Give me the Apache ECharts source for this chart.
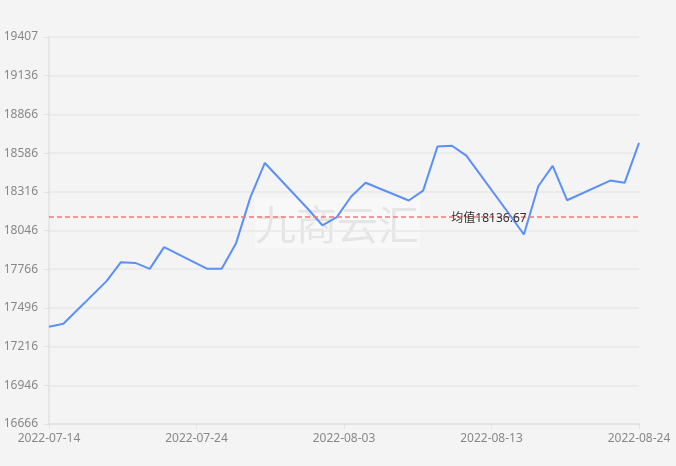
<!DOCTYPE html>
<html>
<head>
<meta charset="utf-8">
<script src="https://cdn.jsdelivr.net/npm/echarts@6/dist/echarts.min.js"></script>
<style>
html,body{margin:0;padding:0;background:#f4f4f4;}
#chart{width:676px;height:466px;}
</style>
</head>
<body>
<div id="chart"></div>
<script>
var dates = ['2022-07-14','2022-07-15','2022-07-18','2022-07-19','2022-07-20','2022-07-21','2022-07-22',
  '2022-07-25','2022-07-26','2022-07-27','2022-07-28','2022-07-29',
  '2022-08-01','2022-08-02','2022-08-03','2022-08-04','2022-08-05',
  '2022-08-08','2022-08-09','2022-08-10','2022-08-11','2022-08-12',
  '2022-08-15','2022-08-16','2022-08-17','2022-08-18','2022-08-19',
  '2022-08-22','2022-08-23','2022-08-24'];
var prices = [17355,17376,17678,17812,17807,17765,17919,
  17765,17765,17947,18273,18515,
  18189,18073,18131,18277,18375,
  18249,18319,18632,18637,18567,
  18150,18008,18350,18494,18251,
  18390,18374,18657];
var yTickLabels = ['16666','16946','17216','17496','17766','18046','18316','18586','18866','19136','19407'];
var xStart = '2022-07-14';
var xEnd = '2022-08-24';
var yMin = 16666, yMax = 19407;

var DAY = 86400000;
var base = Date.parse(xStart);
var span = (Date.parse(xEnd) - base) / DAY;
function pad(n){return n<10?'0'+n:''+n;}
function fmtDay(v){
  var d = new Date(base + Math.floor(v + 1e-6) * DAY);
  return d.getUTCFullYear() + '-' + pad(d.getUTCMonth()+1) + '-' + pad(d.getUTCDate());
}
var seriesData = dates.map(function(d, i){ return [(Date.parse(d) - base) / DAY, prices[i]]; });
var yInterval = (yMax - yMin) / 10;

var chart = echarts.init(document.getElementById('chart'));
chart.setOption({
  backgroundColor: '#f4f4f4',
  animation: false,
  textStyle: {fontFamily: 'Noto Sans, Noto Sans CJK SC, sans-serif'},
  grid: {left: 49, right: 37, top: 37, bottom: 42, containLabel: false},
  xAxis: {
    type: 'value',
    min: 0, max: span, interval: span / 4,
    axisLine: {show: true, lineStyle: {color: '#e2e2e2', width: 1.5}},
    axisTick: {show: true, length: 5, lineStyle: {color: '#e2e2e2'}},
    splitLine: {show: false},
    axisLabel: {color: '#888', fontSize: 12, margin: 9, formatter: function(v){ return fmtDay(v); }}
  },
  yAxis: {
    type: 'value',
    min: yMin, max: yMax, interval: yInterval,
    axisLine: {show: true, lineStyle: {color: '#e2e2e2', width: 1.5}},
    axisTick: {show: true, length: 5, lineStyle: {color: '#e2e2e2'}},
    splitLine: {show: true, lineStyle: {color: '#e9e9e9', width: 1.5}},
    axisLabel: {color: '#888', fontSize: 12, margin: 11, formatter: function(v){
      var i = Math.round((v - yMin) / yInterval);
      return yTickLabels[i] !== undefined ? yTickLabels[i] : '';
    }}
  },
  series: [{
    type: 'line',
    data: seriesData,
    showSymbol: false,
    symbol: 'none',
    lineStyle: {color: '#5b8ff9', width: 2},
    itemStyle: {color: '#5b8ff9'},
    markLine: {
      silent: true,
      symbol: ['none','none'],
      data: [{type: 'average'}],
      lineStyle: {color: '#f87575', type: [5,3], width: 1.5},
      label: {
        position: 'middle',
        color: '#333',
        fontSize: 12,
        offset: [145, 13],
        formatter: function(p){ return '均值' + Number(p.value).toFixed(2); }
      }
    }
  }],
  graphic: [{
    type: 'group',
    left: 255, top: 198,
    z: 100,
    children: [
      {type: 'rect', shape: {x: 0, y: 0, width: 165, height: 50}, style: {fill: 'rgba(255,255,255,0.4)'}},
      {type: 'text', x: 82, y: 26, style: {text: '九商云汇', fontSize: 41, fill: 'rgba(0,0,0,0.075)', align: 'center', verticalAlign: 'middle', fontFamily: 'Noto Sans CJK SC'}}
    ]
  }]
});
</script>
</body>
</html>
